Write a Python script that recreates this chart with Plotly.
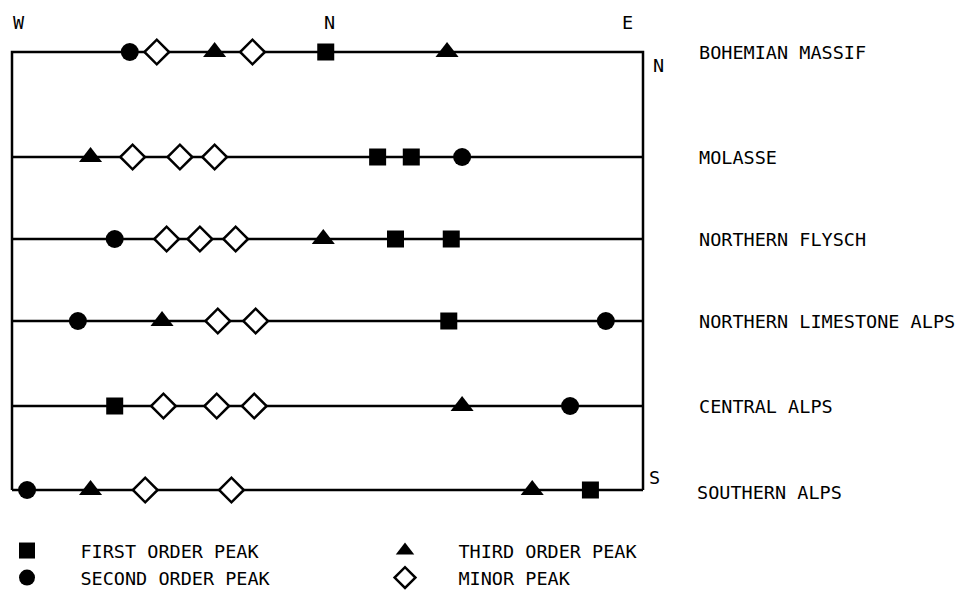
import plotly.graph_objects as go

# ---------------- data ----------------
regions = ["BOHEMIAN MASSIF", "MOLASSE", "NORTHERN FLYSCH",
           "NORTHERN LIMESTONE ALPS", "CENTRAL ALPS", "SOUTHERN ALPS"]

# azimuth in degrees: W = -90, N = 0, E = +90
first_az = [-0.5, 14.3, 23.9, 19.4, 35.3, 34.6, -60.7, 75.0]
first_reg = ["BOHEMIAN MASSIF", "MOLASSE", "MOLASSE", "NORTHERN FLYSCH",
             "NORTHERN FLYSCH", "NORTHERN LIMESTONE ALPS", "CENTRAL ALPS",
             "SOUTHERN ALPS"]

second_az = [-56.4, 38.4, -60.7, -71.2, 79.4, 69.2, -85.7]
second_reg = ["BOHEMIAN MASSIF", "MOLASSE", "NORTHERN FLYSCH",
              "NORTHERN LIMESTONE ALPS", "NORTHERN LIMESTONE ALPS",
              "CENTRAL ALPS", "SOUTHERN ALPS"]

third_az = [-32.2, 34.1, -67.6, -1.2, -47.2, 38.4, -67.6, 58.4]
third_reg = ["BOHEMIAN MASSIF", "BOHEMIAN MASSIF", "MOLASSE",
             "NORTHERN FLYSCH", "NORTHERN LIMESTONE ALPS", "CENTRAL ALPS",
             "SOUTHERN ALPS", "SOUTHERN ALPS"]

minor_az = [-48.7, -21.4,
            -55.6, -42.1, -32.2,
            -45.9, -36.4, -26.2,
            -31.3, -20.5,
            -46.8, -31.6, -20.9,
            -52.0, -27.4]
minor_reg = ["BOHEMIAN MASSIF"] * 2 + ["MOLASSE"] * 3 + ["NORTHERN FLYSCH"] * 3 \
    + ["NORTHERN LIMESTONE ALPS"] * 2 + ["CENTRAL ALPS"] * 3 + ["SOUTHERN ALPS"] * 2

direction_labels = ["W", "N", "E"]
direction_az = [-90, 0, 90]

legend_names = ["FIRST ORDER PEAK", "SECOND ORDER PEAK",
                "THIRD ORDER PEAK", "MINOR PEAK"]

# ---------------- layout helpers ----------------
W, H = 961, 592
FONT = "DejaVu Sans Mono"
FS = 18.5
row_px = [52, 157, 239, 321, 406, 490]          # vertical position of each region line
row_of = dict(zip(regions, row_px))
LEFT_PX, RIGHT_PX = 12, 643
deg_per_px = 180.0 / (RIGHT_PX - LEFT_PX)
x_range = [-90 - LEFT_PX * deg_per_px, 90 + (W - RIGHT_PX) * deg_per_px]

fig = go.Figure()

# frame and region lines
lx, ly = [-90, -90, 90, 90, None], [row_px[-1], row_px[0], row_px[0], row_px[-1], None]
for r in row_px[1:]:
    lx += [-90, 90, None]
    ly += [r, r, None]
fig.add_trace(go.Scatter(x=lx, y=ly, mode="lines",
                         line=dict(color="black", width=2.5),
                         showlegend=False, hoverinfo="skip"))

NB = "\u00a0" * 3


def add_peaks(az, reg, name, symbol, size, fill, lw):
    fig.add_trace(go.Scatter(
        x=az, y=[row_of[r] for r in reg], mode="markers", name=NB + name,
        marker=dict(symbol=symbol, size=size, color=fill,
                    line=dict(color="black", width=lw)),
        cliponaxis=False))


# order gives a 2-column legend: first | third / second | minor
add_peaks(first_az, first_reg, legend_names[0], "square", 17, "black", 0)
add_peaks(third_az, third_reg, legend_names[2], "triangle-up", 20, "black", 0)
add_peaks(second_az, second_reg, legend_names[1], "circle", 18, "black", 0)
add_peaks(minor_az, minor_reg, legend_names[3], "diamond", 19, "white", 2.5)

ann = []
# direction labels along top
shifts = [7, 2, -16]
for lab, az, sh in zip(direction_labels, direction_az, shifts):
    ann.append(dict(x=az, y=22, xref="x", yref="y", text=lab, showarrow=False,
                    xanchor="center", yanchor="middle", xshift=sh))
# N / S at right side
ann.append(dict(x=90, y=65, xref="x", yref="y", text="N", showarrow=False,
                xanchor="left", yanchor="middle", xshift=8))
ann.append(dict(x=90, y=477, xref="x", yref="y", text="S", showarrow=False,
                xanchor="left", yanchor="middle", xshift=4))
# region labels
for reg in regions:
    ann.append(dict(x=90, y=row_of[reg] + (2 if reg == "SOUTHERN ALPS" else 0),
                    xref="x", yref="y", text=reg, showarrow=False,
                    xanchor="left", yanchor="middle",
                    xshift=(52 if reg == "SOUTHERN ALPS" else 54)))

fig.update_layout(
    width=W, height=H,
    margin=dict(l=0, r=0, t=0, b=0, autoexpand=False),
    paper_bgcolor="white", plot_bgcolor="white",
    font=dict(family=FONT, size=FS, color="black"),
    xaxis=dict(range=x_range, visible=False, fixedrange=True),
    yaxis=dict(range=[H, 0], visible=False, fixedrange=True),
    annotations=ann,
    showlegend=True,
    legend=dict(orientation="h", x=7 / W, xanchor="left",
                y=1 - 532 / H, yanchor="top",
                entrywidth=333, entrywidthmode="pixels",
                traceorder="normal", itemsizing="trace",
                font=dict(family=FONT, size=FS, color="black"),
                bgcolor="rgba(0,0,0,0)", borderwidth=0),
)

fig.write_html("out.html", config={"displayModeBar": False},
               post_script="document.body.style.margin='0';document.body.style.overflow='hidden';")
